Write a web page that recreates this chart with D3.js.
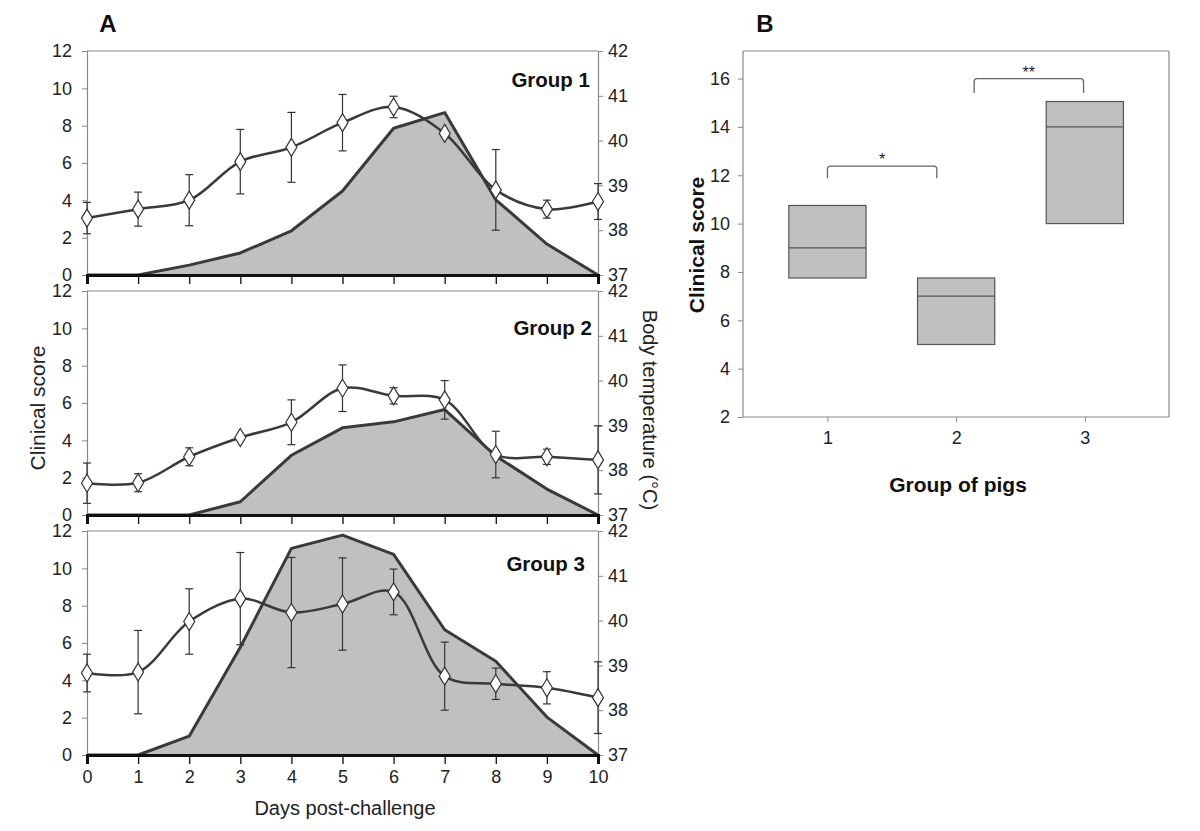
<!DOCTYPE html>
<html><head><meta charset="utf-8">
<script src="https://cdn.jsdelivr.net/npm/d3@7"></script>
<style>body{margin:0;background:#fff}svg{display:block;font-family:"Liberation Sans",Arial,sans-serif}</style>
</head><body>
<script>
const days = [0,1,2,3,4,5,6,7,8,9,10];
const groupNames = ["Group 1","Group 2","Group 3"];
const scoreTicks = [0,2,4,6,8,10,12];
const tempTicks = [37,38,39,40,41,42];
// clinical score (area, left axis)
const g1Score = [0,0,0.53,1.18,2.37,4.5,7.86,8.7,4.03,1.66,0];
const g2Score = [0,0,0,0.71,3.2,4.67,4.99,5.65,3.16,1.39,0];
const g3Score = [0,0,1.01,5.77,11.07,11.78,10.75,6.71,5.02,2.03,0];
// body temperature mean (line, right axis)
const g1Temp = [38.27,38.47,38.67,39.53,39.85,40.40,40.75,40.16,38.90,38.47,38.64];
const g2Temp = [37.71,37.72,38.30,38.73,39.07,39.83,39.66,39.57,38.35,38.30,38.23];
const g3Temp = [38.83,38.85,39.98,40.49,40.18,40.37,40.64,38.76,38.59,38.50,38.28];
// error (SD, °C)
const g1Err = [0.35,0.38,0.57,0.72,0.78,0.63,0.24,0.05,0.9,0.2,0.4];
const g2Err = [0.45,0.2,0.2,0.05,0.5,0.52,0.18,0.43,0.52,0.17,0.76];
const g3Err = [0.42,0.93,0.73,1.03,1.23,1.03,0.51,0.76,0.35,0.36,0.8];
// panel B boxes
const boxGroups = [1,2,3];
const boxLow = [7.75,5.0,10.0];
const boxMed = [9.0,7.0,14.0];
const boxHigh = [10.75,7.75,15.05];
const bTicks = [2,4,6,8,10,12,14,16];
const sigFrom = [1.0,2.14];
const sigTo = [1.85,2.99];
const sigLevel = [12.38,16.0];
const sigDrop = [11.88,15.4];
const sigLabel = ["*","**"];

const scores = [g1Score,g2Score,g3Score];
const temps = [g1Temp,g2Temp,g3Temp];
const errs = [g1Err,g2Err,g3Err];

const W=1200,H=831;
const svg = d3.select("body").append("svg").attr("width",W).attr("height",H);
const textCol="#222", lineCol="#3a3a3a", frameCol="#888";

// ---- Panel A ----
const xL=87, xR=598;
const x = d3.scaleLinear().domain([0,10]).range([xL,xR]);
const panelTops=[51,291,531], ph=224;
const labelBase=[36,44,40], labelRight=[590,592,585];

panelTops.forEach((top,i)=>{
  const yS = d3.scaleLinear().domain([0,12]).range([top+ph,top]);
  const yT = d3.scaleLinear().domain([37,42]).range([top+ph,top]);
  const g = svg.append("g");
  g.append("line").attr("x1",xL).attr("x2",xR).attr("y1",top).attr("y2",top).attr("stroke",frameCol).attr("stroke-width",1.2);
  const area = d3.area().x((d,j)=>x(days[j])).y0(yS(0)).y1(d=>yS(d));
  g.append("path").datum(scores[i]).attr("d",area).attr("fill","#c0c0c0");
  g.append("path").datum(scores[i]).attr("d",d3.line().x((d,j)=>x(days[j])).y(d=>yS(d)))
    .attr("fill","none").attr("stroke",lineCol).attr("stroke-width",3).attr("stroke-linejoin","round");
  const la = g.append("g").attr("transform",`translate(${xL},0)`).call(d3.axisLeft(yS).tickValues(scoreTicks).tickSize(5).tickPadding(10));
  la.select(".domain").attr("stroke",frameCol).attr("stroke-width",1.2);
  la.selectAll(".tick line").attr("stroke",frameCol);
  la.selectAll("text").attr("font-size",18).attr("fill",textCol);
  const ra = g.append("g").attr("transform",`translate(${xR},0)`).call(d3.axisRight(yT).tickValues(tempTicks).tickSize(5).tickPadding(5).tickFormat(d3.format("d")));
  ra.select(".domain").attr("stroke",frameCol).attr("stroke-width",1.2);
  ra.selectAll(".tick line").attr("stroke",frameCol);
  ra.selectAll("text").attr("font-size",18).attr("fill",textCol);
  const xa = g.append("g").attr("transform",`translate(0,${top+ph})`).call(d3.axisBottom(x).tickValues(days).tickSize(9).tickPadding(6).tickFormat(i===2?d3.format("d"):""));
  xa.select(".domain").attr("stroke","#111").attr("stroke-width",3);
  xa.selectAll(".tick line").attr("stroke","#111").attr("stroke-width",1.3);
  xa.selectAll("text").attr("font-size",18).attr("fill",textCol);
  g.append("path").datum(temps[i]).attr("d",d3.line().x((d,j)=>x(days[j])).y(d=>yT(d)).curve(d3.curveCatmullRom.alpha(0.5)))
    .attr("fill","none").attr("stroke",lineCol).attr("stroke-width",2.5);
  const eb = g.append("g").attr("stroke","#333").attr("stroke-width",1.2);
  temps[i].forEach((t,j)=>{
    const e=errs[i][j], cx=x(days[j]);
    eb.append("line").attr("x1",cx).attr("x2",cx).attr("y1",yT(t+e)).attr("y2",yT(t-e));
    eb.append("line").attr("x1",cx-4).attr("x2",cx+4).attr("y1",yT(t+e)).attr("y2",yT(t+e));
    eb.append("line").attr("x1",cx-4).attr("x2",cx+4).attr("y1",yT(t-e)).attr("y2",yT(t-e));
  });
  g.selectAll("path.dia").data(temps[i]).join("path").attr("class","dia")
    .attr("d",(d,j)=>{const cx=x(days[j]),cy=yT(d);return `M${cx},${cy-9}L${cx+5.5},${cy}L${cx},${cy+9}L${cx-5.5},${cy}Z`;})
    .attr("fill","#fff").attr("stroke","#333").attr("stroke-width",1.2);
  g.append("text").attr("x",labelRight[i]).attr("y",top+labelBase[i]).attr("text-anchor","end")
    .attr("font-size",20.5).attr("font-weight","bold").attr("fill","#111").text(groupNames[i]);
});
svg.append("text").attr("x",108).attr("y",32).attr("text-anchor","middle").attr("font-size",24).attr("font-weight","bold").attr("fill","#111").text("A");
svg.append("text").attr("transform","translate(45,408) rotate(-90)").attr("text-anchor","middle").attr("font-size",21).attr("fill",textCol).text("Clinical score");
svg.append("text").attr("transform","translate(643,410) rotate(90)").attr("text-anchor","middle").attr("font-size",20).attr("fill",textCol).text("Body temperature (°C)");
svg.append("text").attr("x",345).attr("y",815).attr("text-anchor","middle").attr("font-size",20).attr("fill",textCol).text("Days post-challenge");

// ---- Panel B ----
const bL=743, bR=1169, bT=51, bB=417;
const xb = d3.scaleLinear().domain([0.344,3.654]).range([bL,bR]);
const yb = d3.scaleLinear().domain([2,17.14]).range([bB,bT]);
const gb = svg.append("g");
gb.append("line").attr("x1",bL).attr("x2",bR).attr("y1",bT).attr("y2",bT).attr("stroke",frameCol).attr("stroke-width",1.2);
gb.append("line").attr("x1",bR).attr("x2",bR).attr("y1",bT).attr("y2",bB).attr("stroke",frameCol).attr("stroke-width",1.2);
const bla = gb.append("g").attr("transform",`translate(${bL},0)`).call(d3.axisLeft(yb).tickValues(bTicks).tickSize(5).tickPadding(8));
bla.select(".domain").attr("stroke",frameCol).attr("stroke-width",1.2).attr("d",`M0,${bB}V${bT}`);
bla.selectAll(".tick line").attr("stroke",frameCol);
bla.selectAll("text").attr("font-size",18).attr("fill",textCol);
const bxa = gb.append("g").attr("transform",`translate(0,${bB})`).call(d3.axisBottom(xb).tickValues(boxGroups).tickSize(5).tickPadding(9).tickFormat(d3.format("d")));
bxa.select(".domain").attr("stroke",frameCol).attr("stroke-width",1.2).attr("d",`M${bL},0H${bR}`);
bxa.selectAll(".tick line").attr("stroke",frameCol);
bxa.selectAll("text").attr("font-size",18).attr("fill",textCol);
boxGroups.forEach((gr,i)=>{
  gb.append("rect").attr("x",xb(gr-0.3)).attr("width",xb(gr+0.3)-xb(gr-0.3))
    .attr("y",yb(boxHigh[i])).attr("height",yb(boxLow[i])-yb(boxHigh[i]))
    .attr("fill","#c0c0c0").attr("stroke","#555").attr("stroke-width",1.2);
  gb.append("line").attr("x1",xb(gr-0.3)).attr("x2",xb(gr+0.3)).attr("y1",yb(boxMed[i])).attr("y2",yb(boxMed[i])).attr("stroke","#555").attr("stroke-width",1.2);
});
sigFrom.forEach((f,i)=>{
  const t=sigTo[i];
  gb.append("path").attr("d",`M${xb(f)},${yb(sigDrop[i])}V${yb(sigLevel[i])+3}Q${xb(f)},${yb(sigLevel[i])} ${xb(f)+3},${yb(sigLevel[i])}H${xb(t)-3}Q${xb(t)},${yb(sigLevel[i])} ${xb(t)},${yb(sigLevel[i])+3}V${yb(sigDrop[i])}`)
    .attr("fill","none").attr("stroke","#666").attr("stroke-width",1.3);
  gb.append("text").attr("x",(xb(f)+xb(t))/2).attr("y",yb(sigLevel[i])-1).attr("text-anchor","middle").attr("font-size",16).attr("fill",textCol).text(sigLabel[i]);
});
svg.append("text").attr("x",765).attr("y",32).attr("text-anchor","middle").attr("font-size",24).attr("font-weight","bold").attr("fill","#111").text("B");
svg.append("text").attr("transform","translate(704,245) rotate(-90)").attr("text-anchor","middle").attr("font-size",21).attr("font-weight","bold").attr("fill","#111").text("Clinical score");
svg.append("text").attr("x",958).attr("y",492).attr("text-anchor","middle").attr("font-size",21).attr("font-weight","bold").attr("fill","#111").text("Group of pigs");
</script>
</body></html>
